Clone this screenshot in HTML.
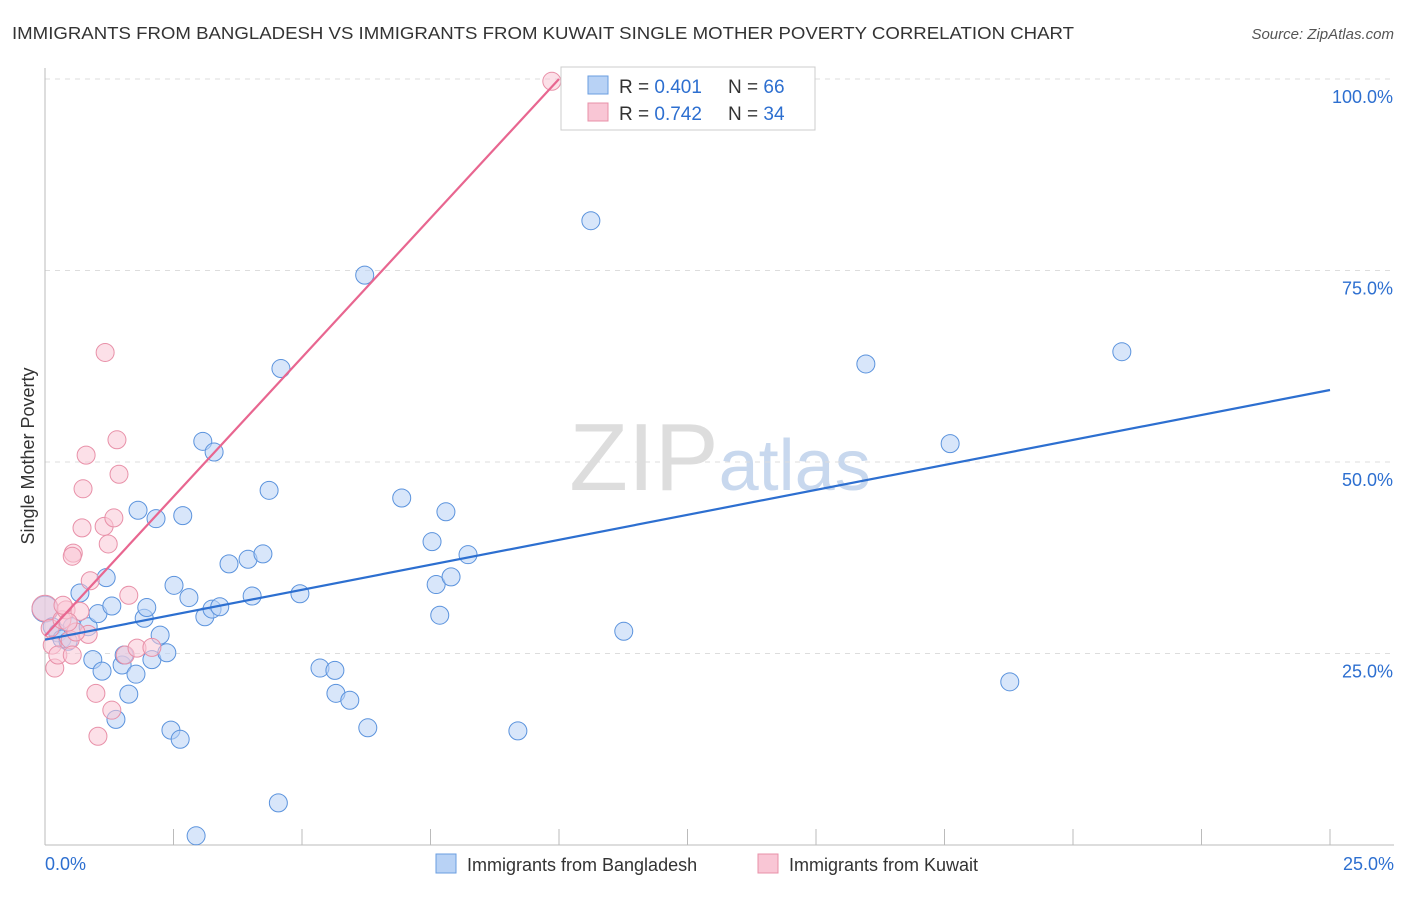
<!DOCTYPE html>
<html><head><meta charset="utf-8"><style>
body{margin:0;background:#fff;font-family:"Liberation Sans",sans-serif;}
svg text{font-family:"Liberation Sans",sans-serif;}
</style></head><body>
<svg id="chart" width="1406" height="892" xmlns="http://www.w3.org/2000/svg">
<text x="12" y="39" font-size="17.5" fill="#333" textLength="1062" lengthAdjust="spacingAndGlyphs">IMMIGRANTS FROM BANGLADESH VS IMMIGRANTS FROM KUWAIT SINGLE MOTHER POVERTY CORRELATION CHART</text>
<text x="1394" y="39" font-size="15" fill="#555" text-anchor="end" font-style="italic">Source: ZipAtlas.com</text>
<text transform="translate(34,456) rotate(-90)" font-size="18" fill="#333" text-anchor="middle">Single Mother Poverty</text>
<text x="720" y="490" font-size="96" fill="#ddd" text-anchor="middle" font-family="Liberation Serif">ZIP<tspan fill="#c8d8ee" font-family="Liberation Sans" font-size="72">atlas</tspan></text>
<g id="grid"></g><g id="axes"></g><g id="marks"></g>
<g>
<rect x="561" y="67" width="254" height="63" fill="#fff" stroke="#ccc"/>
<rect x="588" y="76" width="20" height="18" fill="#b8d2f5" stroke="#6a9ee0"/>
<text x="619" y="93" font-size="19" fill="#333">R = <tspan fill="#2d6fd0">0.401</tspan></text>
<text x="728" y="93" font-size="19" fill="#333">N = <tspan fill="#2d6fd0">66</tspan></text>
<rect x="588" y="103" width="20" height="18" fill="#f9c6d5" stroke="#e890a8"/>
<text x="619" y="120" font-size="19" fill="#333">R = <tspan fill="#2d6fd0">0.742</tspan></text>
<text x="728" y="120" font-size="19" fill="#333">N = <tspan fill="#2d6fd0">34</tspan></text>
</g>
<g>
<rect x="436" y="854" width="20" height="19" fill="#b8d2f5" stroke="#6a9ee0"/>
<text x="467" y="871" font-size="18" fill="#333">Immigrants from Bangladesh</text>
<rect x="758" y="854" width="20" height="19" fill="#f9c6d5" stroke="#e890a8"/>
<text x="789" y="871" font-size="18" fill="#333">Immigrants from Kuwait</text>
</g>
</svg>
<script>
const xTicks=[0,2.5,5,7.5,10,12.5,15,17.5,20,22.5,25];
const yTicks=[25,50,75,100];
const yTickLabels=["25.0%","50.0%","75.0%","100.0%"];
const blueX=[0,0.14,0.25,0.33,0.45,0.53,0.68,0.84,0.93,1.03,1.11,1.19,1.3,1.38,1.5,1.54,1.63,1.77,1.81,1.93,1.98,2.08,2.16,2.24,2.37,2.45,2.51,2.63,2.68,2.8,2.94,3.07,3.11,3.25,3.29,3.4,3.58,3.95,4.03,4.24,4.36,4.54,4.59,4.96,5.35,5.64,5.66,5.93,6.22,6.28,6.94,7.53,7.61,7.68,7.8,7.9,8.23,9.2,10.62,11.26,15.97,17.61,18.77,20.95];
const blueY=[30.8,28.5,27.7,26.9,26.6,28.5,32.9,28.5,24.2,30.2,22.7,34.9,31.2,16.4,23.5,24.8,19.7,22.3,43.7,29.6,31.0,24.2,42.6,27.4,25.1,15.0,33.9,13.8,43.0,32.3,1.2,52.7,29.8,30.8,51.3,31.1,36.7,37.3,32.5,38.0,46.3,5.5,62.2,32.8,23.1,22.8,19.8,18.9,74.4,15.3,45.3,39.6,34.0,30.0,43.5,35.0,37.9,14.9,81.5,27.9,62.8,52.4,21.3,64.4];
const pinkX=[0,0.1,0.14,0.19,0.25,0.33,0.41,0.49,0.53,0.55,0.53,0.68,0.72,0.74,0.8,0.84,0.88,0.99,1.03,1.15,1.17,1.23,1.3,1.34,1.4,1.44,1.56,1.63,1.79,2.08,9.86,0.35,0.6,0.45];
const pinkY=[30.9,28.3,26.1,23.1,24.8,29.4,30.7,26.8,24.8,38.1,37.7,30.5,41.4,46.5,50.9,27.5,34.5,19.8,14.2,41.6,64.3,39.3,17.6,42.7,52.9,48.4,24.8,32.6,25.7,25.8,99.7,31.3,27.8,29.1];
const blueFit=[26.8,59.4];
const pinkFit=[27.3,100];
const X=v=>45+v/25*1285, Y=v=>845-v/100*766;
const NS="http://www.w3.org/2000/svg";
function mk(tag,attrs,parent){const e=document.createElementNS(NS,tag);for(const k in attrs)e.setAttribute(k,attrs[k]);document.getElementById(parent).appendChild(e);return e;}
yTicks.forEach((t,i)=>{
 const g=mk('line',{x1:45,x2:1394,y1:Y(t),y2:Y(t),stroke:'#ddd','stroke-dasharray':'5,5'},'grid');
 
 
 const l=mk('text',{x:1393,y:Y(t)+24,'font-size':18,fill:'#2d6fd0','text-anchor':'end'},'axes');
 l.textContent=yTickLabels[i];
 
 
});
const ax=mk('line',{x1:45,x2:1394,y1:845,y2:845,stroke:'#bbb'},'axes');


const ay=mk('line',{x1:45,x2:45,y1:68,y2:845,stroke:'#bbb'},'axes');


xTicks.forEach(t=>{const tk=mk('line',{x1:X(t),x2:X(t),y1:829,y2:845,stroke:'#bbb'},'axes');
 
 });
const x0=mk('text',{x:45,y:870,'font-size':18,fill:'#2d6fd0'},'axes');x0.textContent='0.0%';


const x1=mk('text',{x:1394,y:870,'font-size':18,fill:'#2d6fd0','text-anchor':'end'},'axes');x1.textContent='25.0%';


function pts(xs,ys,fill,stroke,name){xs.forEach((x,i)=>{
 const c=mk('circle',{cx:X(x),cy:Y(ys[i]),r:i===0?13:9,fill:fill,'fill-opacity':0.55,stroke:stroke,'stroke-width':1},'marks');
 
 });}
pts(blueX,blueY,'#b8d2f5','#5b93dd','point-bangladesh');
pts(pinkX,pinkY,'#f9c6d5','#e890a8','point-kuwait');
const bl=mk('line',{x1:X(0),y1:Y(blueFit[0]),x2:X(25),y2:Y(blueFit[1]),stroke:'#2d6fd0','stroke-width':2.2},'marks');


const pl=mk('line',{x1:X(0),y1:Y(pinkFit[0]),x2:X(10),y2:Y(pinkFit[1]),stroke:'#e86690','stroke-width':2.2},'marks');


</script>
</body></html>
